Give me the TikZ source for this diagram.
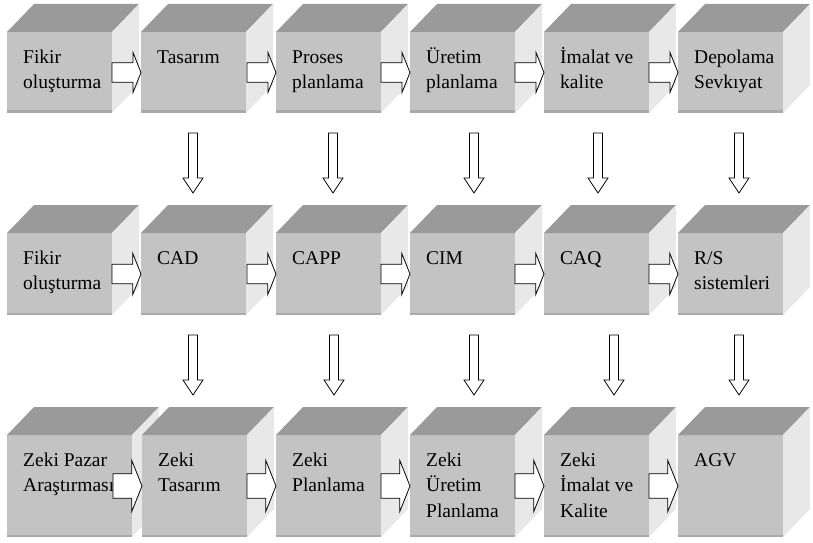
\documentclass[tikz,border=0pt]{standalone}
\usepackage{fontspec}
\setmainfont{Liberation Serif}
\usetikzlibrary{calc}

\definecolor{frontgray}{RGB}{195,195,195}
\definecolor{topgray}{RGB}{154,154,154}
\definecolor{sidegray}{RGB}{232,232,232}
\definecolor{edgegray}{RGB}{170,170,170}

% cube: name, left, bottom, width, height, text
\newcommand{\cube}[6]{%
  \node[front, minimum width=#4pt, minimum height=#5pt] (#1) at (#2+#4/2,#3+#5/2) {};
  \fill[topface] (#1.north west) -- ++(27,28) -- ($(#1.north east)+(27,28)$) -- (#1.north east) -- cycle;
  \fill[sideface] (#1.north east) -- ++(27,28) -- ($(#1.south east)+(27,28)$) -- (#1.south east) -- cycle;
  \fill[edgegray] (#1.south west) rectangle ($(#1.south east)+(0,2.5)$);
  \node[boxtext] (#1t) at ($(#1.north west)+(16,-13)$) {\strut #6};
}

% block arrow from one cube to the next one
\newcommand{\harrow}[2]{%
  \draw[blockarrow] let \p1=(#1.east), \p2=(#2.west), \p3=(#2.north), \p4=(#2.south),
      \n1={\y3-\y4} in
    (\x2-29pt,\y1+0.12*\n1) -- (\x2-0.1*\n1,\y1+0.12*\n1) -- (\x2-0.1*\n1,\y1+0.25*\n1)
    -- (\x2,\y1) -- (\x2-0.1*\n1,\y1-0.25*\n1) -- (\x2-0.1*\n1,\y1-0.12*\n1)
    -- (\x2-29pt,\y1-0.12*\n1) -- cycle;
}

% block arrow down to the cube below
\newcommand{\varrow}[3]{%
  \draw[blockarrow] let \p1=($(#1.south)+(#3,0)$), \p2=(#2.north) in
    (\x1-4.5pt,\y1-20pt) -- (\x1+4.5pt,\y1-20pt) -- (\x1+4.5pt,\y2+55pt) -- (\x1+10pt,\y2+55pt)
    -- (\x1,\y2+40pt) -- (\x1-10pt,\y2+55pt) -- (\x1-4.5pt,\y2+55pt) -- cycle;
}

\begin{document}
\begin{tikzpicture}[x=1pt, y=1pt,
    front/.style ={rectangle, fill=frontgray, inner sep=0, outer sep=0},
    topface/.style ={fill=topgray},
    sideface/.style ={fill=sidegray},
    boxtext/.style ={font=\fontsize{19.5}{25.5}\selectfont, align=left, inner sep=0, anchor=north west},
    blockarrow/.style ={draw=black, fill=white, line width=0.8pt, line join=miter}]
   \useasboundingbox (0,0) rectangle (813,542);
   % first row
   \cube{a1}{7}{429}{105}{81}{Fikir\\oluşturma}
   \cube{a2}{141}{429}{105}{81}{Tasarım}
   \cube{a3}{276}{429}{105}{81}{Proses\\planlama}
   \cube{a4}{410}{429}{105}{81}{Üretim\\planlama}
   \cube{a5}{544}{429}{105}{81}{İmalat ve\\kalite}
   \cube{a6}{678}{429}{105}{81}{Depolama\\Sevkıyat}
   % second row
   \cube{b1}{7}{227}{105}{82}{Fikir\\oluşturma}
   \cube{b2}{141}{227}{105}{82}{CAD}
   \cube{b3}{276}{227}{105}{82}{CAPP}
   \cube{b4}{410}{227}{105}{82}{CIM}
   \cube{b5}{544}{227}{105}{82}{CAQ}
   \cube{b6}{678}{227}{105}{82}{R/S\\sistemleri}
   % third row
   \cube{c1}{7}{5}{125}{102}{Zeki Pazar\\Araştırması}
   \cube{c2}{142}{5}{105}{102}{Zeki\\Tasarım}
   \cube{c3}{276}{5}{105}{102}{Zeki\\Planlama}
   \cube{c4}{410}{5}{105}{102}{Zeki\\Üretim\\Planlama}
   \cube{c5}{544}{5}{105}{102}{Zeki\\İmalat ve\\Kalite}
   \cube{c6}{678}{5}{105}{102}{AGV}
   % arrows
   \harrow{a1}{a2} \harrow{a2}{a3} \harrow{a3}{a4} \harrow{a4}{a5} \harrow{a5}{a6}
   \harrow{b1}{b2} \harrow{b2}{b3} \harrow{b3}{b4} \harrow{b4}{b5} \harrow{b5}{b6}
   \harrow{c1}{c2} \harrow{c2}{c3} \harrow{c3}{c4} \harrow{c4}{c5} \harrow{c5}{c6}
   \varrow{a2}{b2}{-0.5} \varrow{a3}{b3}{4.5} \varrow{a4}{b4}{11.5}
   \varrow{a5}{b5}{1.5} \varrow{a6}{b6}{8.5}
   \varrow{b2}{c2}{-0.5} \varrow{b3}{c3}{5.5} \varrow{b4}{c4}{11.5}
   \varrow{b5}{c5}{17.5} \varrow{b6}{c6}{8.5}
 \end{tikzpicture}
\end{document}
